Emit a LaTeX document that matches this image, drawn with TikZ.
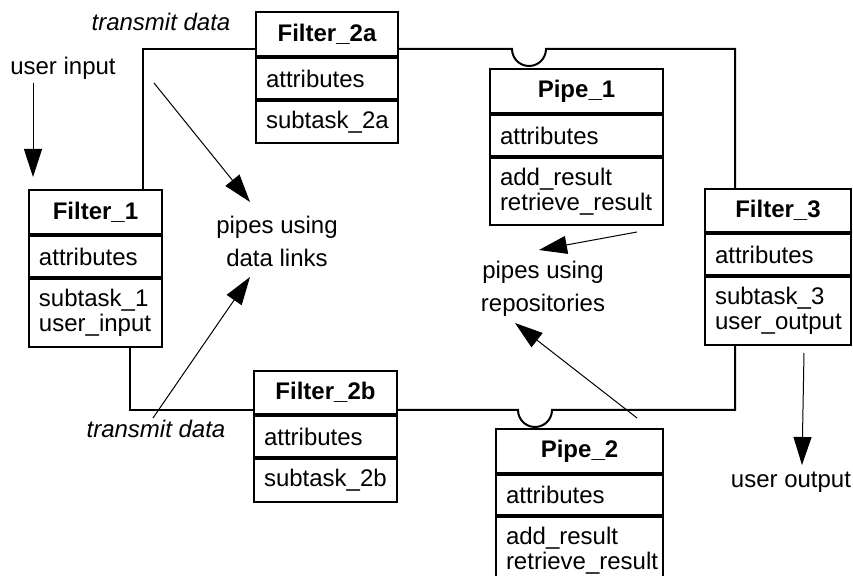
\documentclass[tikz,border=0pt]{standalone}
\usepackage{fontspec}
\setmainfont{Liberation Sans}
\usetikzlibrary{arrows.meta}
\newcommand{\px}{0.5pt}

\begin{document}
\fontsize{12}{12.5}\selectfont
\begin{tikzpicture}[x=0.5pt, y=-0.5pt,
    hdr/.style={draw, line width=1pt, anchor=north west, minimum width=#1*\px, minimum height=44*\px, inner sep=0pt, font=\bfseries},
    sect/.style={draw, line width=1pt, anchor=north west, text width=#1*\px-10pt, inner xsep=5pt, inner ysep=0pt, minimum height=41*\px, align=left},
    link/.style={line width=1pt},
    arr/.style={line width=0.5pt, -{Triangle[length=14pt, width=9pt]}},
    lbl/.style={inner sep=0pt, align=center, font=\fontsize{12}{16.5}\selectfont}]
    \useasboundingbox (0,0) rectangle (853,576);

    % Filters
    \node[hdr=133] (f1) at (28,189) {Filter\_1};
    \node[sect=133] (f1-attr) at (f1.south west) {attributes};
    \node[sect=133, minimum height=68*\px] (f1-ops) at (f1-attr.south west) {subtask\_1\\user\_input};

    \node[hdr=142] (f2a) at (255,11) {Filter\_2a};
    \node[sect=142] (f2a-attr) at (f2a.south west) {attributes};
    \node[sect=142, minimum height=42*\px] (f2a-ops) at (f2a-attr.south west) {subtask\_2a};

    \node[hdr=143, minimum height=43*\px] (f2b) at (253,370) {Filter\_2b};
    \node[sect=143] (f2b-attr) at (f2b.south west) {attributes};
    \node[sect=143, minimum height=43*\px] (f2b-ops) at (f2b-attr.south west) {subtask\_2b};

    \node[hdr=146, minimum height=43*\px] (f3) at (704,188) {Filter\_3};
    \node[sect=146] (f3-attr) at (f3.south west) {attributes};
    \node[sect=146, minimum height=68*\px] (f3-ops) at (f3-attr.south west) {subtask\_3\\user\_output};

    % Pipes
    \node[hdr=173] (p1) at (489,68) {Pipe\_1};
    \node[sect=173] (p1-attr) at (p1.south west) {attributes};
    \node[sect=173, minimum height=67*\px] (p1-ops) at (p1-attr.south west) {add\_result\\retrieve\_result};

    \node[hdr=167] (p2) at (495,428) {Pipe\_2};
    \node[sect=167, minimum height=40*\px] (p2-attr) at (p2.south west) {attributes};
    \node[sect=167, minimum height=68*\px] (p2-ops) at (p2-attr.south west) {add\_result\\retrieve\_result};

    % labels
    \node (uin) at (63,68) {user input};
    \node (uout) at (791,482) {user output};
    \node (td-top) at (161,22) {\itshape transmit data};
    \node (td-bot) at (156,429) {\itshape transmit data};
    \node[lbl] (dl) at (277,241) {pipes using\\data links};
    \node[lbl] (pr) at (543,289) {pipes using\\repositories};

    % data links
    \draw[link] ([xshift=57.5pt]f1.north west) |- ([yshift=4pt]f2a.south west);
    \draw[link] ([yshift=4pt]f2a.south east) -- ++(113,0) arc[start angle=180, end angle=0, radius=17] -| ([xshift=15.5pt]f3.north west);
    \draw[link] ([xshift=51pt]f1-ops.south west) |- ([yshift=2.5pt]f2b.south west);
    \draw[link] ([yshift=2.5pt]f2b.south east) -- ++(120,0) arc[start angle=180, end angle=0, radius=17] -| ([xshift=15.5pt]f3-ops.south west);

    % pointers
    \coordinate (uin-tail) at (33,83);
    \coordinate (td1-tail) at (154,83);
    \coordinate (td2-tail) at (153,418);
    \draw[arr] (uin-tail) -- ([xshift=2.5pt, yshift=6pt]f1.north west);
    \draw[arr] (td1-tail) -- ([shift={(-27,-39)}]dl.center);
    \draw[arr] (td2-tail) -- ([shift={(-27,36)}]dl.center);
    \draw[arr] ([shift={(-27,6)}]p1-ops.south east) -- ([shift={(-4,-39)}]pr.center);
    \draw[arr] ([shift={(-27,-10)}]p2.north east) -- ([shift={(-28,34)}]pr.center);
    \draw[arr] ([shift={(-48,7)}]f3-ops.south east) -- ([shift={(11,-17)}]uout.center);

\end{tikzpicture}
\end{document}
